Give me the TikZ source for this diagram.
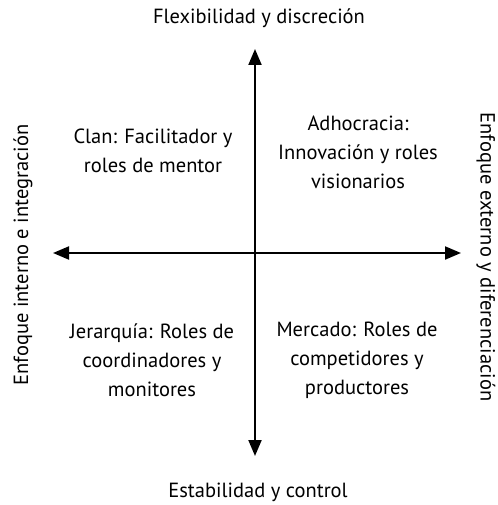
\documentclass[tikz,border=0pt]{standalone}
\usepackage{fontspec}
\setmainfont{PT Sans}
\usetikzlibrary{arrows.meta}

\begin{document}
\begin{tikzpicture}[x=1pt,y=-1pt,
  eje/.style={line width=2pt,{Triangle[length=16pt,width=13pt]}-{Triangle[length=16pt,width=13pt]}},
  cuadro/.style={align=center,font=\fontsize{20.5}{29}\selectfont},
  rotulo/.style={font=\fontsize{20.5}{24}\selectfont}]
\useasboundingbox (0,0) rectangle (497,505);
% ejes
\coordinate (arriba) at (255,49);
\coordinate (abajo) at (255,456);
\coordinate (izq) at (53,253);
\coordinate (der) at (461,253);
\draw[eje] (abajo) -- (arriba);
\draw[eje] (izq) -- (der);
% rotulos de los ejes
\node[rotulo] (flex) at (259,18) {Flexibilidad y discreción};
\node[rotulo] (estab) at (258,492) {Estabilidad y control};
\node[rotulo,rotate=90] (interno) at (23,255) {Enfoque interno e integración};
\node[rotulo,rotate=-90] (externo) at (486,257) {Enfoque externo y diferenciación};
% cuadrantes
\node[cuadro] (clan) at (153,151) {Clan: Facilitador y\\roles de mentor};
\node[cuadro] (adhoc) at (358,152) {Adhocracia:\\Innovación y roles\\visionarios};
\node[cuadro] (jerarq) at (152,360) {Jerarquía: Roles de\\coordinadores y\\monitores};
\node[cuadro] (mercado) at (357,360) {Mercado: Roles de\\competidores y\\productores};
\end{tikzpicture}
\end{document}
